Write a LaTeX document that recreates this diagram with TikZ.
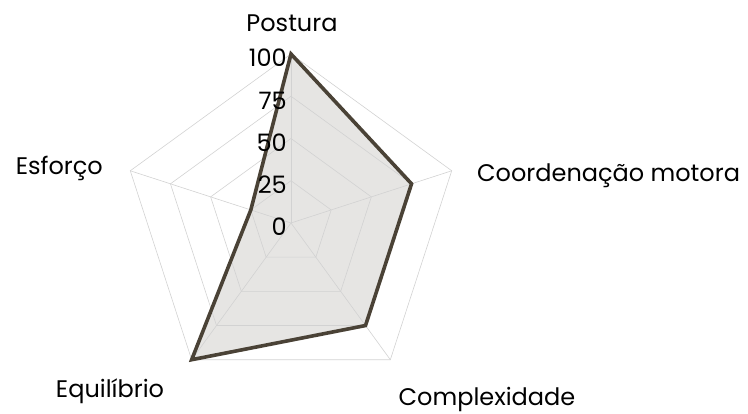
\documentclass[tikz,border=0pt]{standalone}
\usepackage{fontspec}
\setmainfont{Poppins}
\definecolor{gridgray}{HTML}{D2D2D2}
\definecolor{areafill}{HTML}{E6E5E3}
\definecolor{arealine}{HTML}{4A4236}
\begin{document}
\begin{tikzpicture}[x=1pt,y=1pt,font=\fontsize{24}{28}\selectfont]
\useasboundingbox (0,0) rectangle (748,414);
\tikzset{grid/.style={gridgray, line width=.6pt}}
\begin{scope}[shift={(291,191)}]
\fill[areafill](90:169)--(18:126.75)--(-54:126.75)--(-126:169)--(162:42.25)--cycle;
\foreach \r in {42.25,84.5,126.75,169}
{
    \draw[grid](90:\r)--(18:\r)--(-54:\r)--(-126:\r)--(162:\r)--cycle;
}
\foreach \a in {90,18,-54,-126,162}
{
    \draw[grid](0,0)--(\a:169);
}
\draw[arealine, line width=3.6pt](90:169)--(18:126.75)--(-54:126.75)--(-126:169)--(162:42.25)--cycle;
\foreach \v [count=\i from 0] in {0,25,50,75,100}
{
    \node[anchor=base east, inner sep=0pt] (tick\v) at (-4,\i*42.25-13) {\v};
}
\end{scope}
\node[anchor=base, inner sep=0pt] (postura) at (292,382) {Postura};
\node[anchor=base west, inner sep=0pt] (coord) at (477,232) {Coordenação motora};
\node[anchor=base, inner sep=0pt] (complex) at (487,8) {Complexidade};
\node[anchor=base, inner sep=0pt] (equil) at (110,16) {Equilíbrio};
\node[anchor=base east, inner sep=0pt] (esforco) at (103,239) {Esforço};
\end{tikzpicture}
\end{document}
